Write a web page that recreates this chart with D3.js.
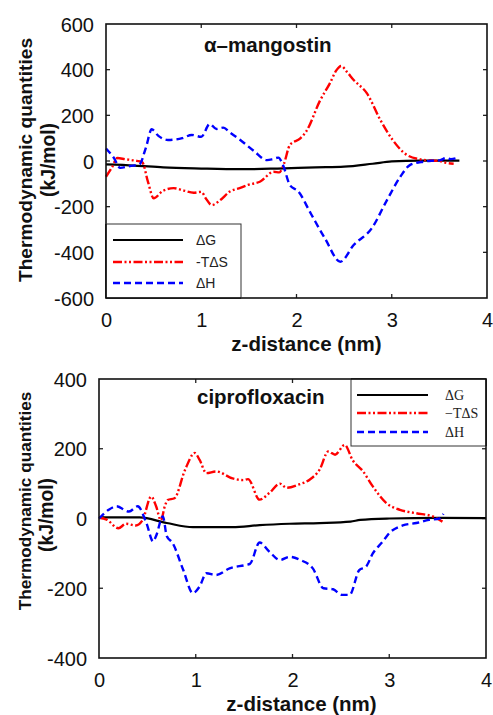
<!DOCTYPE html>
<html>
<head>
<meta charset="utf-8">
<script src="https://cdn.jsdelivr.net/npm/d3@7"></script>
<style>
  html, body { margin: 0; padding: 0; background: #fff; }
  svg { display: block; font-family: "Liberation Sans", Arial, sans-serif; }
</style>
</head>
<body>
<svg id="chart" width="493" height="715"></svg>
<script>
// ---- α-mangostin panel: z-distance (nm) and quantities (kJ/mol) ----
const mangoZ_G  = [0, 0.3, 0.6, 1.0, 1.41, 1.8, 2.2, 2.5, 2.8, 3.0, 3.3, 3.71];
const mangoG    = [-15, -20, -28, -33, -36, -33, -28, -25, -12, -2, 2, 2];

const mangoZ_TS = [0, 0.06, 0.12, 0.2, 0.3, 0.38, 0.44, 0.5, 0.6, 0.71, 0.82, 0.92, 1.0, 1.05, 1.11, 1.2, 1.3, 1.41, 1.49, 1.62, 1.76, 1.82, 1.87, 1.93, 2.04, 2.1, 2.25, 2.35, 2.42, 2.47, 2.53, 2.6, 2.74, 2.88, 3.01, 3.16, 3.3, 3.42, 3.5, 3.57, 3.65];
const mangoTS   = [-69, -30, 13, 8, 2, -5, -90, -163, -130, -119, -130, -139, -135, -165, -193, -171, -134, -118, -105, -90, -47, -50, -10, 70, 99, 128, 267, 340, 398, 416, 390, 355, 296, 180, 92, 26, 7, 2, 0, -8, -12];

const mangoZ_H  = [0, 0.08, 0.15, 0.25, 0.35, 0.42, 0.48, 0.55, 0.65, 0.8, 0.9, 1.0, 1.09, 1.16, 1.23, 1.3, 1.41, 1.55, 1.69, 1.75, 1.81, 1.86, 1.93, 2.02, 2.15, 2.3, 2.46, 2.6, 2.79, 2.95, 3.09, 3.19, 3.33, 3.45, 3.51, 3.57, 3.62, 3.7];
const mangoH    = [55, 15, -30, -22, -15, 60, 139, 110, 92, 100, 114, 106, 162, 140, 146, 125, 92, 45, 4, 8, 15, -20, -105, -134, -230, -340, -441, -368, -295, -171, -69, -18, -3, 2, 4, 13, 8, 15];

// ---- ciprofloxacin panel ----
const ciproZ_G  = [0, 0.2, 0.42, 0.7, 0.97, 1.38, 1.66, 1.97, 2.28, 2.6, 2.7, 3.0, 3.52, 4.0];
const ciproG    = [4, 3, 3, -13, -25, -25, -19, -15, -13, -9, -4, 0, 2, 1];

const ciproZ_TS = [0, 0.08, 0.2, 0.28, 0.38, 0.45, 0.54, 0.59, 0.64, 0.68, 0.71, 0.78, 0.89, 0.99, 1.04, 1.11, 1.21, 1.38, 1.49, 1.54, 1.66, 1.76, 1.87, 1.94, 2.06, 2.18, 2.28, 2.37, 2.44, 2.54, 2.62, 2.73, 2.83, 2.97, 3.11, 3.28, 3.45, 3.55];
const ciproTS   = [3, -3, -28, -15, -20, -5, 63, 35, -5, 35, 53, 58, 140, 188, 168, 130, 135, 115, 110, 113, 54, 73, 100, 88, 97, 112, 140, 192, 183, 211, 168, 135, 92, 44, 25, 15, 6, -9];

const ciproZ_H  = [0, 0.1, 0.18, 0.31, 0.4, 0.49, 0.56, 0.59, 0.66, 0.7, 0.76, 0.87, 0.97, 1.04, 1.11, 1.21, 1.35, 1.52, 1.56, 1.66, 1.76, 1.87, 1.97, 2.08, 2.21, 2.32, 2.42, 2.51, 2.59, 2.69, 2.76, 2.83, 2.93, 3.0, 3.14, 3.28, 3.41, 3.52, 3.56];
const ciproH    = [0, 25, 35, 20, 35, -13, -66, -50, 6, -50, -70, -147, -214, -195, -157, -162, -143, -133, -130, -69, -95, -119, -110, -119, -143, -200, -203, -219, -219, -148, -138, -100, -67, -42, -20, -13, -4, 0, 13];

const xTicks = [0, 1, 2, 3, 4];
const mangoYTicks = [-600, -400, -200, 0, 200, 400, 600];
const ciproYTicks = [-400, -200, 0, 200, 400];
const seriesNames = ["\u0394G", "-T\u0394S", "\u0394H"];
const seriesNamesSerif = ["\u0394G", "\u2212T\u0394S", "\u0394H"];

const styles = [
  { color: "#000000", dash: null, width: 2.2 },
  { color: "#ff0000", dash: "9,2.5,2,2.5,2,2.5", width: 2.4 },
  { color: "#0000ff", dash: "7,4", width: 2.4 }
];

const svg = d3.select("#chart");
const fmt = v => String(v); // plain hyphen-minus labels

function panel(opts) {
  const { left, top, right, bottom, yDomain, yTicks, title, titleX, titleY, series, yTitle } = opts;
  const x = d3.scaleLinear().domain([0, 4]).range([left, right]);
  const y = d3.scaleLinear().domain(yDomain).range([bottom, top]);
  const g = svg.append("g");

  const tk = 4;
  g.append("g").attr("transform", `translate(0,${bottom})`)
    .call(d3.axisBottom(x).tickValues(xTicks).tickSize(0).tickPadding(15).tickFormat(fmt))
    .call(a => a.select(".domain").remove())
    .selectAll("text").attr("font-size", 20).attr("fill", "#111");
  g.append("g").attr("transform", `translate(${left},0)`)
    .call(d3.axisLeft(y).tickValues(yTicks).tickSize(0).tickPadding(opts.yPad).tickFormat(fmt))
    .call(a => a.select(".domain").remove())
    .selectAll("text").attr("font-size", 20).attr("fill", "#111").attr("dy", "0.36em");
  g.selectAll("g[font-family]").attr("font-family", null);

  // inner ticks on all four sides
  const tg = g.append("g").attr("stroke", "#222").attr("stroke-width", 1.3);
  xTicks.slice(1, -1).forEach(v => {
    tg.append("line").attr("x1", x(v)).attr("x2", x(v)).attr("y1", bottom).attr("y2", bottom - tk);
    tg.append("line").attr("x1", x(v)).attr("x2", x(v)).attr("y1", top).attr("y2", top + tk);
  });
  yTicks.slice(1, -1).forEach(v => {
    tg.append("line").attr("x1", left).attr("x2", left + tk).attr("y1", y(v)).attr("y2", y(v));
    tg.append("line").attr("x1", right).attr("x2", right - tk).attr("y1", y(v)).attr("y2", y(v));
  });

  // curves
  const line = d3.line().x(d => x(d[0])).y(d => y(d[1])).curve(d3.curveMonotoneX);
  series.forEach((s, i) => {
    const pts = s.z.map((z, k) => [z, s.v[k]]);
    g.append("path").datum(pts)
      .attr("d", line)
      .attr("fill", "none")
      .attr("stroke", styles[i].color)
      .attr("stroke-width", styles[i].width)
      .attr("stroke-dasharray", styles[i].dash)
      .attr("stroke-linejoin", "round");
  });

  // frame
  g.append("rect").attr("x", left).attr("y", top)
    .attr("width", right - left).attr("height", bottom - top)
    .attr("fill", "none").attr("stroke", "#111").attr("stroke-width", 1.6);

  // panel label
  g.append("text").attr("x", titleX).attr("y", titleY)
    .attr("font-size", 20.5).attr("font-weight", "bold").attr("fill", "#111")
    .text(title);

  // axis titles
  g.append("text")
    .attr("transform", `translate(${yTitle.x1},${yTitle.c1}) rotate(-90)`)
    .attr("text-anchor", "middle").attr("font-size", yTitle.s1).attr("font-weight", "bold").attr("fill", "#111")
    .text("Thermodynamic quantities");
  g.append("text")
    .attr("transform", `translate(${yTitle.x2},${yTitle.c2}) rotate(-90)`)
    .attr("text-anchor", "middle").attr("font-size", 19.3).attr("font-weight", "bold").attr("fill", "#111")
    .text("(kJ/mol)");
  g.append("text")
    .attr("x", (left + right) / 2 + opts.xTitleShift).attr("y", bottom + 53)
    .attr("text-anchor", "middle").attr("font-size", 20.5).attr("font-weight", "bold").attr("fill", "#111")
    .text("z-distance (nm)");

  return { g, x, y };
}

// top panel
const p1 = panel({
  left: 106, top: 24, right: 487, bottom: 298,
  yDomain: [-600, 600], yTicks: mangoYTicks, yPad: 12, xTitleShift: 10,
  title: "\u03b1\u2013mangostin", titleX: 204, titleY: 52,
  yTitle: { x1: 32, c1: 160, s1: 19.2, x2: 55, c2: 160 },
  series: [
    { z: mangoZ_G, v: mangoG },
    { z: mangoZ_TS, v: mangoTS },
    { z: mangoZ_H, v: mangoH }
  ]
});

// legend of the top panel
{
  const lg = p1.g.append("g");
  lg.append("rect").attr("x", 106).attr("y", 224).attr("width", 135).attr("height", 74)
    .attr("fill", "#fff").attr("stroke", "#333").attr("stroke-width", 1);
  const rows = [240, 262, 283];
  rows.forEach((ry, i) => {
    lg.append("line").attr("x1", 113).attr("x2", 183).attr("y1", ry).attr("y2", ry)
      .attr("stroke", styles[i].color).attr("stroke-width", styles[i].width)
      .attr("stroke-dasharray", styles[i].dash);
    lg.append("text").attr("x", 196).attr("y", ry).attr("dy", "0.36em")
      .attr("font-size", 14).attr("fill", "#222").text(seriesNames[i]);
  });
  lg.append("line").attr("x1", 106).attr("x2", 106).attr("y1", 224).attr("y2", 298).attr("stroke", "#111").attr("stroke-width", 1.6);
  lg.append("line").attr("x1", 106).attr("x2", 241).attr("y1", 298).attr("y2", 298).attr("stroke", "#111").attr("stroke-width", 1.6);
}

// bottom panel
const p2 = panel({
  left: 99, top: 379, right: 486, bottom: 658,
  yDomain: [-400, 400], yTicks: ciproYTicks, yPad: 12, xTitleShift: 9,
  title: "ciprofloxacin", titleX: 197, titleY: 404,
  yTitle: { x1: 31, c1: 501, s1: 17.2, x2: 53, c2: 515 },
  series: [
    { z: ciproZ_G, v: ciproG },
    { z: ciproZ_TS, v: ciproTS },
    { z: ciproZ_H, v: ciproH }
  ]
});

// legend of the bottom panel
{
  const lg = p2.g.append("g");
  lg.append("rect").attr("x", 351).attr("y", 379).attr("width", 135).attr("height", 67)
    .attr("fill", "#fff").attr("stroke", "#333").attr("stroke-width", 1);
  const rows = [395, 413, 432];
  rows.forEach((ry, i) => {
    lg.append("line").attr("x1", 357).attr("x2", 428).attr("y1", ry).attr("y2", ry)
      .attr("stroke", styles[i].color).attr("stroke-width", styles[i].width)
      .attr("stroke-dasharray", styles[i].dash);
    lg.append("text").attr("x", 445).attr("y", ry).attr("dy", "0.36em")
      .style("font-family", "'Liberation Serif', 'Times New Roman', serif")
      .attr("font-size", 14).attr("fill", "#222").text(seriesNamesSerif[i]);
  });
  lg.append("line").attr("x1", 351).attr("x2", 486).attr("y1", 379).attr("y2", 379).attr("stroke", "#111").attr("stroke-width", 1.6);
  lg.append("line").attr("x1", 486).attr("x2", 486).attr("y1", 379).attr("y2", 446).attr("stroke", "#111").attr("stroke-width", 1.6);
}
</script>
</body>
</html>
